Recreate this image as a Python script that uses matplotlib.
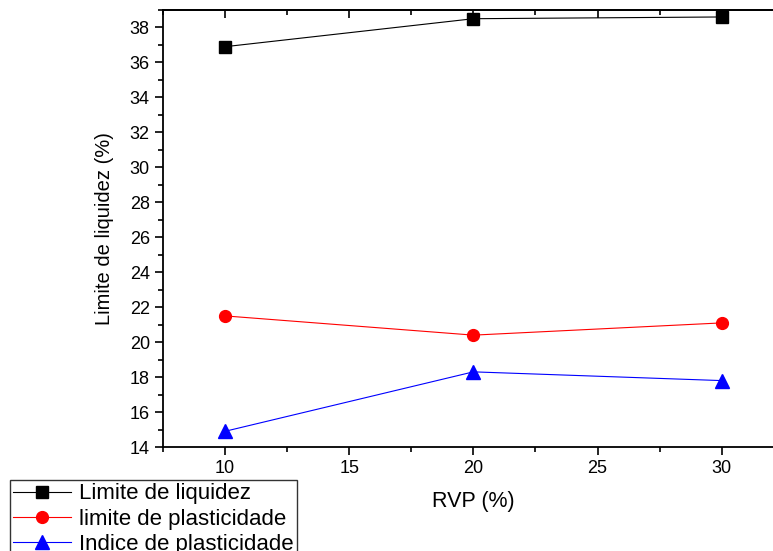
import matplotlib.pyplot as plt
from matplotlib.ticker import MultipleLocator

plt.rcParams['font.family'] = ['Liberation Sans', 'DejaVu Sans']

# dados
rvp = [10, 20, 30]
limite_liquidez = [36.9, 38.5, 38.6]
limite_plasticidade = [21.5, 20.4, 21.1]
indice_plasticidade = [14.9, 18.3, 17.8]

fig = plt.figure(figsize=(7.73, 5.51), dpi=100)
ax = fig.add_axes([0.2109, 0.1887, 0.803, 0.7932])

ax.plot(rvp, limite_liquidez, color='black', lw=0.8, marker='s', ms=8,
        label='Limite de liquidez')
ax.plot(rvp, limite_plasticidade, color='red', lw=0.8, marker='o', ms=8.5,
        label='limite de plasticidade')
ax.plot(rvp, indice_plasticidade, color='blue', lw=0.8, marker='^', ms=9.5,
        label='Indice de plasticidade')

ax.set_xlim(7.5, 32.5)
ax.set_ylim(14, 39)
ax.xaxis.set_major_locator(MultipleLocator(5))
ax.xaxis.set_minor_locator(MultipleLocator(2.5))
ax.yaxis.set_major_locator(MultipleLocator(2))
ax.yaxis.set_minor_locator(MultipleLocator(1))
ax.tick_params(which='major', direction='out', length=6, width=1.2, labelsize=13)
ax.tick_params(which='minor', direction='out', length=3.5, width=1.2)
for s in ax.spines.values():
    s.set_linewidth(1.3)
ax.spines['right'].set_visible(False)

# ticks internos no eixo de cima
top = ax.secondary_xaxis('top')
top.xaxis.set_major_locator(MultipleLocator(5))
top.xaxis.set_minor_locator(MultipleLocator(2.5))
top.tick_params(which='major', direction='in', length=6, width=1.2, labeltop=False)
top.tick_params(which='minor', direction='in', length=3.5, width=1.2)
top.spines['top'].set_linewidth(1.3)

ax.set_xlabel('RVP (%)', fontsize=15.5, labelpad=10)
ax.set_ylabel('Limite de liquidez (%)', fontsize=14.5, labelpad=11)

leg = fig.legend(loc='upper left', bbox_to_anchor=(10 / 773, 1 - 480 / 551),
                 fontsize=16, frameon=True, fancybox=False, edgecolor='black',
                 handlelength=2.6, labelspacing=0.2, borderpad=0.15,
                 handletextpad=0.35, borderaxespad=0)
leg.get_frame().set_linewidth(1.0)

fig.savefig('out.png', dpi=100)
